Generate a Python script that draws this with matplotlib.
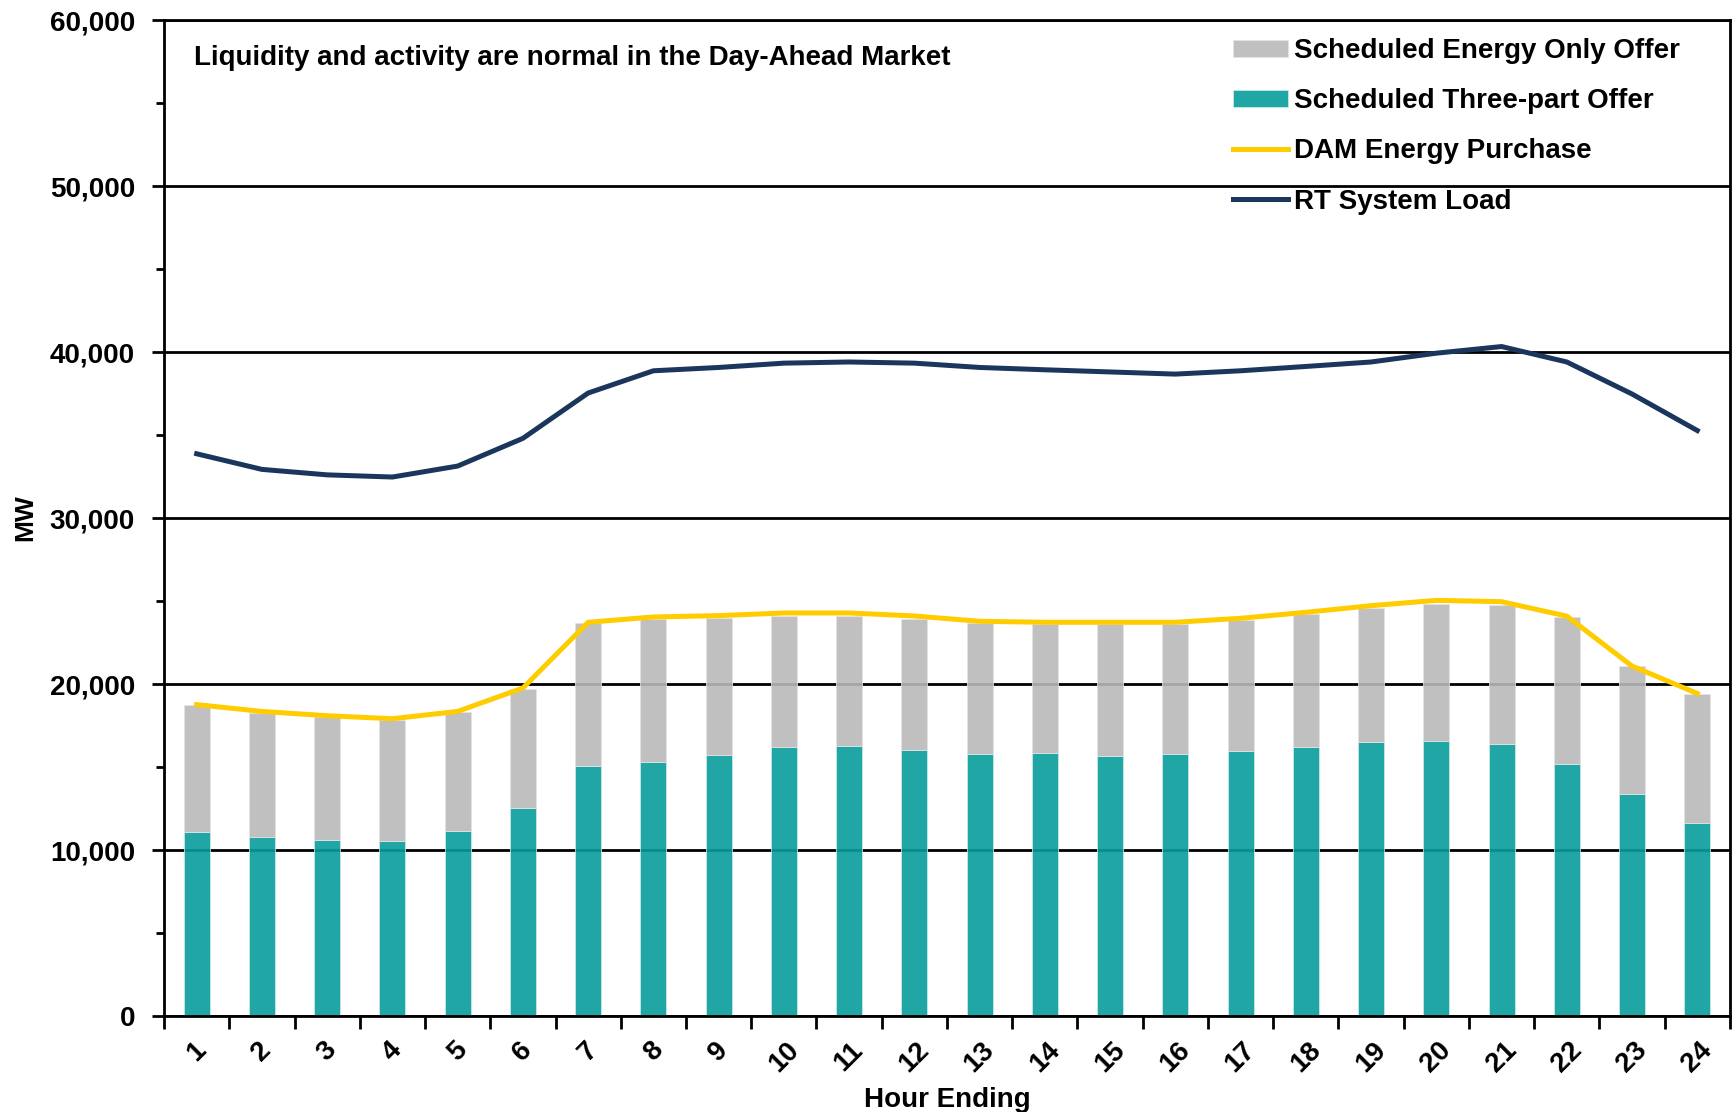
import numpy as np
import matplotlib; matplotlib.use("Agg")
import matplotlib.pyplot as plt
from matplotlib.ticker import MultipleLocator, FuncFormatter

# ── data (MW) ─────────────────────────────────────────────────────────────────
hours = list(range(1, 25))
three_part = [11100, 10790, 10610, 10550, 11160, 12540, 15080, 15320, 15740, 16230,
              16280, 16020, 15790, 15850, 15680, 15790, 15960, 16210, 16480, 16550,
              16380, 15210, 13370, 11630]
energy_only = [7650, 7460, 7400, 7260, 7170, 7160, 8600, 8600, 8240, 7880,
               7830, 7870, 7890, 7750, 7920, 7850, 7890, 8020, 8100, 8300,
               8410, 8840, 7710, 7760]
dam_purchase = [18760, 18350, 18090, 17910, 18350, 19760, 23720, 24040, 24120, 24280,
                24280, 24100, 23780, 23720, 23720, 23720, 23960, 24320, 24720, 25040,
                24960, 24090, 21080, 19430]
rt_load = [33870, 32930, 32600, 32470, 33130, 34800, 37530, 38870, 39070, 39330,
           39400, 39330, 39070, 38930, 38800, 38670, 38870, 39130, 39400, 39930,
           40330, 39400, 37470, 35270]

GREY = "#B8BAB8"
TEAL = "#099C9C"
GOLD = "#FFCC00"
NAVY = "#1B365D"

plt.rcParams["font.family"] = ["Liberation Sans", "DejaVu Sans"]
plt.rcParams["font.weight"] = "bold"

fig = plt.figure(figsize=(17.36, 11.12), dpi=100)
ax = fig.add_axes([0.0945, 0.0863, 0.902, 0.8957])

x = np.array(hours)
ax.set_axisbelow(True)
ax.yaxis.grid(True, which="major", color="black", lw=2.0)
b_tp = ax.bar(x, three_part, width=0.4, color=TEAL, alpha=0.9, edgecolor="#CFE9E9",
              lw=0.6, zorder=2)
b_eo = ax.bar(x, energy_only, width=0.4, bottom=three_part, color=GREY, alpha=0.9,
              edgecolor="#E4E4E4", lw=0.6, zorder=2)
l_dam, = ax.plot(x, dam_purchase, color=GOLD, lw=3.6, zorder=3)
l_rt, = ax.plot(x, rt_load, color=NAVY, lw=3.6, zorder=3)

ax.set_xlim(0.5, 24.5)
ax.set_ylim(0, 60000)
ax.yaxis.set_major_locator(MultipleLocator(10000))
ax.yaxis.set_minor_locator(MultipleLocator(5000))
ax.yaxis.set_major_formatter(FuncFormatter(lambda v, _: f"{int(v):,}"))
ax.tick_params(axis="y", which="major", direction="out", length=9, width=2,
               labelsize=20, pad=12)
ax.tick_params(axis="y", which="minor", direction="out", length=6, width=2)

# ticks at the category boundaries, labels at the centres
ax.set_xticks(np.arange(0.5, 25, 1.0))
ax.set_xticklabels([])
ax.set_xticks(x, minor=True)
ax.set_xticklabels([str(h) for h in hours], minor=True, rotation=45,
                   ha="center", va="top", fontsize=20)
ax.tick_params(axis="x", which="major", direction="out", length=9, width=2)
ax.tick_params(axis="x", which="minor", length=0, pad=15)

for s in ax.spines.values():
    s.set_linewidth(2.0)
    s.set_color("black")

ax.set_xlabel("Hour Ending", fontsize=20, fontweight="bold", labelpad=7)
ax.set_ylabel("MW", fontsize=19, fontweight="bold", labelpad=9)

ax.text(0.019, 0.962, "Liquidity and activity are normal in the Day-Ahead Market",
        transform=ax.transAxes, fontsize=20, fontweight="bold", va="center", ha="left")

ax.legend([b_eo, b_tp, l_dam, l_rt],
          ["Scheduled Energy Only Offer", "Scheduled Three-part Offer",
           "DAM Energy Purchase", "RT System Load"],
          loc="upper left", bbox_to_anchor=(0.671, 1.0), frameon=False, fontsize=20,
          handlelength=2.0, handleheight=0.55, handletextpad=0.2,
          labelspacing=0.87, borderaxespad=0.25)

fig.savefig("out.png", dpi=100)
